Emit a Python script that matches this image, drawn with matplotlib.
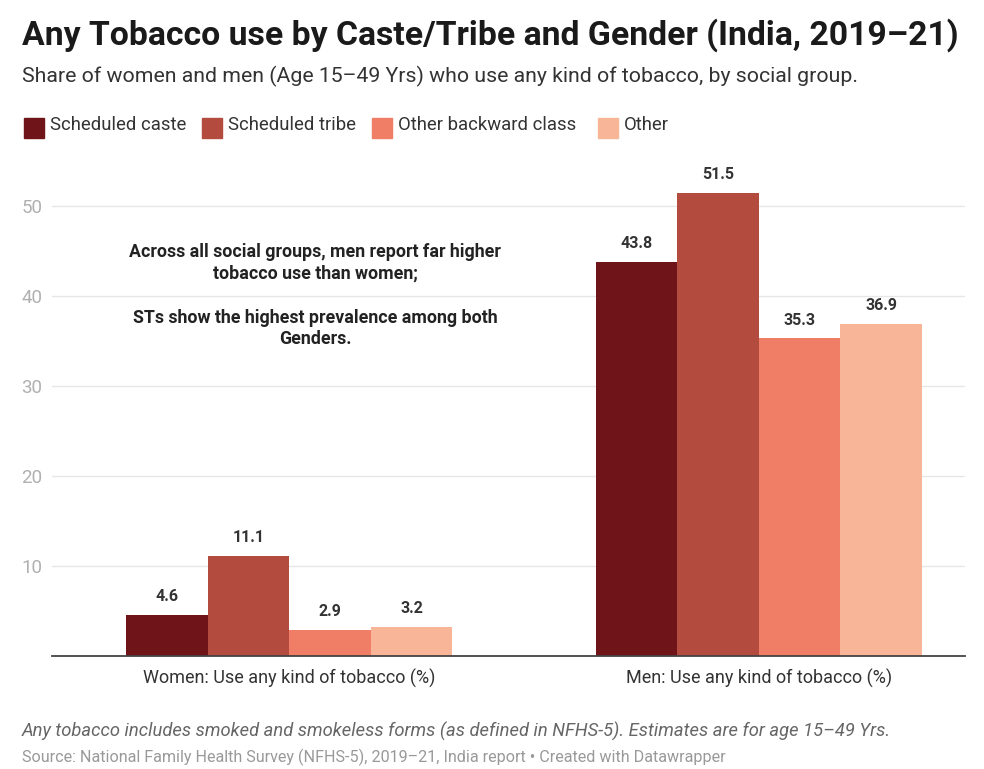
import numpy as np
import matplotlib.pyplot as plt
from matplotlib.patches import Rectangle

# Any tobacco use (%) by social group, NFHS-5
groups = ['Scheduled caste', 'Scheduled tribe', 'Other backward class', 'Other']
categories = ['Women: Use any kind of tobacco (%)', 'Men: Use any kind of tobacco (%)']
women = [4.6, 11.1, 2.9, 3.2]
men = [43.8, 51.5, 35.3, 36.9]
yticks = [10, 20, 30, 40, 50]

colors = ['#6f1418', '#b34c3e', '#f07e66', '#f8b597']

plt.rcParams['font.family'] = ['Roboto', 'DejaVu Sans']

fig = plt.figure(figsize=(9.84, 7.69), dpi=100)
ax = fig.add_axes([52 / 984, 1 - 656 / 769, (965 - 52) / 984, (656 - 161) / 769])

group_pos = [0.0, 5.76]
offsets = np.arange(4) - 1.5
for gi, vals in enumerate([women, men]):
    xs = group_pos[gi] + offsets
    ax.bar(xs, vals, width=1.0, color=colors, zorder=2)
    for x, v in zip(xs, vals):
        ax.text(x, v + 1.2, f'{v:.1f}', ha='center', va='bottom',
                fontsize=11.5, fontweight='bold', color='#333333')

ax.set_xlim(-2.91, 8.29)
ax.set_ylim(0, 55)
ax.set_yticks(yticks)
ax.set_yticklabels([str(t) for t in yticks], color='#b0b0b0', fontsize=13.5)
ax.tick_params(axis='y', length=0, pad=7)
ax.set_xticks(group_pos)
ax.set_xticklabels(categories, fontsize=13, color='#333333')
ax.tick_params(axis='x', length=0, pad=9)
ax.grid(axis='y', color='#e6e6e6', linewidth=1, zorder=0)
for s in ['top', 'right', 'left']:
    ax.spines[s].set_visible(False)
ax.spines['bottom'].set_color('#444444')
ax.spines['bottom'].set_linewidth(1.3)
ax.spines['bottom'].set_zorder(3)

# callout in the empty space above the women's bars
ax.text(0.32, 43.7, 'Across all social groups, men report far higher\ntobacco use than women;',
        ha='center', va='center', fontsize=12.8, fontweight='bold', color='#222222',
        linespacing=1.25)
ax.text(0.32, 36.4, 'STs show the highest prevalence among both\nGenders.',
        ha='center', va='center', fontsize=12.8, fontweight='bold', color='#222222',
        linespacing=1.25)

fig.text(22 / 984, 1 - 35 / 769, 'Any Tobacco use by Caste/Tribe and Gender (India, 2019\u201321)',
         ha='left', va='center', fontsize=24.3, fontweight='bold', color='#1a1a1a')
fig.text(22 / 984, 1 - 76 / 769,
         'Share of women and men (Age 15\u201349 Yrs) who use any kind of tobacco, by social group.',
         ha='left', va='center', fontsize=15.3, color='#333333')

# legend row
leg_x = [24, 202, 372, 598]
for x, c, g in zip(leg_x, colors, groups):
    fig.patches.append(Rectangle((x / 984, 1 - 138 / 769), 20 / 984, 20 / 769,
                                 transform=fig.transFigure, color=c))
    fig.text((x + 26) / 984, 1 - 125 / 769, g, ha='left', va='center',
             fontsize=13.3, color='#333333')

fig.text(22 / 984, 1 - 731 / 769,
         'Any tobacco includes smoked and smokeless forms (as defined in NFHS-5). Estimates are for age 15\u201349 Yrs.',
         ha='left', va='center', fontsize=13.2, style='italic', color='#666666')
fig.text(22 / 984, 1 - 757 / 769,
         'Source: National Family Health Survey (NFHS-5), 2019\u201321, India report \u2022 Created with Datawrapper',
         ha='left', va='center', fontsize=11.6, color='#999999')

fig.savefig('out.png', dpi=100, facecolor='white')
